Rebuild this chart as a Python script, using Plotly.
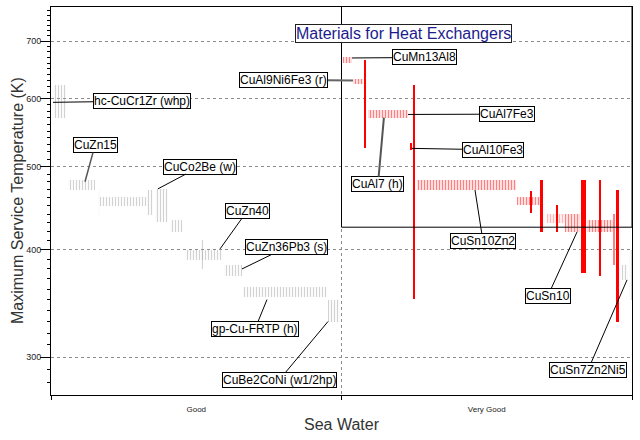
import numpy as np
import plotly.graph_objects as go

# ---------------- data (x extents are in category units: Good = 0..1, Very Good = 1..2) -------------
# grey hatched materials
gray_x0 = [0.007, 0.059, 0.162, 0.169, 0.331, 0.358, 0.410, 0.461, 0.516, 0.596, 0.661, 0.954, 1.966, 1.990]
gray_x1 = [0.052, 0.152, 0.169, 0.331, 0.351, 0.403, 0.454, 0.592, 0.523, 0.658, 0.950, 0.995, 1.986, 2.000]
gray_lo = [569, 469, 439, 450, 439, 431, 420, 389, 380, 373, 352, 330, 369, 350]
gray_hi = [622, 482, 469, 461, 469, 471, 433, 400, 411, 384, 362, 350, 384, 400]

# red hatched materials
red_x0 = [1.005, 1.040, 1.091, 1.260, 1.604, 1.770, 1.845]
red_x1 = [1.036, 1.074, 1.229, 1.601, 1.683, 1.821, 1.942]
red_lo = [660, 624, 569, 469, 451, 420, 420]
red_hi = [670, 632, 582, 482, 461, 440, 433]

# pink hatched materials
pink_x0 = [1.707]
pink_x1 = [1.770]
pink_lo = [430]
pink_hi = [440]

# red narrow (solid) materials
solid_x0 = [1.077, 1.246, 1.239, 1.649, 1.683, 1.738, 1.824, 1.886, 1.945]
solid_x1 = [1.084, 1.253, 1.243, 1.655, 1.694, 1.745, 1.842, 1.893, 1.955]
solid_lo = [526, 351, 523, 442, 420, 420, 376, 373, 330]
solid_hi = [665, 622, 533, 468, 482, 451, 482, 482, 470]

# pink narrow material
psolid_x0 = [1.935]
psolid_x1 = [1.941]
psolid_lo = [384]
psolid_hi = [440]

# labels: text, point (x, T), box centre (x, T)
lab_text = ["hc-CuCr1Zr (whp)", "CuZn15", "CuCo2Be (w)", "CuZn40", "CuZn36Pb3 (s)",
            "gp-Cu-FRTP (h)", "CuBe2CoNi (w1/2hp)", "CuAl9Ni6Fe3 (r)", "CuMn13Al8",
            "CuAl7Fe3", "CuAl7 (h)", "CuAl10Fe3", "CuSn10Zn2", "CuSn10", "CuSn7Zn2Ni5"]
lab_px = [0.007, 0.117, 0.368, 0.582, 0.6575, 0.7435, 0.9535, 1.0396, 1.036,
          1.229, 1.146, 1.2427, 1.4596, 1.8107, 1.983]
lab_pt = [594, 480, 471, 401, 380, 350, 330, 630, 669,
          575, 570, 525, 469.5, 419.5, 369]
lab_bx = [0.313, 0.1515, 0.513, 0.675, 0.812, 0.702, 0.785, 0.802, 1.284,
          1.570, 1.1256, 1.5215, 1.487, 1.7108, 1.8485]
lab_bt = [596, 529.6, 500, 443.7, 402.9, 323.3, 282, 631, 670,
          575.5, 477, 523, 409.4, 353.8, 289.8]
lab_lc = ["#000000", "#555555", "#000000", "#000000", "#000000", "#000000", "#000000",
          "#666666", "#000000", "#000000", "#555555", "#000000", "#000000", "#000000", "#000000"]
lab_lw = [1, 1.5, 1, 1, 1, 1, 1, 2, 1, 1, 2, 1, 1, 1, 1]

cat_vals = [0.5, 1.5]
cat_text = ["Good", "Very Good"]
y_ticks = [300, 400, 500, 600, 700]
y_range = [271, 767]
box_low = 425   # lower edge of the highlighted region (Very Good, high temperature)

FONT = "Liberation Sans, Arial, sans-serif"

fig = go.Figure()


def add_bars(x0, x1, lo, hi, color, hatched, solidity=0.4):
    x0 = np.array(x0); x1 = np.array(x1); lo = np.array(lo, float); hi = np.array(hi, float)
    kw = dict(x=(x0 + x1) / 2, width=x1 - x0, base=lo, y=hi - lo,
              hoverinfo="skip", showlegend=False)
    if hatched:
        fig.add_trace(go.Bar(**kw, marker=dict(
            color="rgba(0,0,0,0)", line=dict(width=0),
            pattern=dict(shape="|", fillmode="overlay", fgcolor=color,
                         bgcolor="rgba(0,0,0,0)", size=3, solidity=solidity))))
    else:
        fig.add_trace(go.Bar(**kw, marker=dict(color=color, line=dict(width=0))))


add_bars(gray_x0, gray_x1, gray_lo, gray_hi, "#a6a6a6", True)
add_bars(pink_x0, pink_x1, pink_lo, pink_hi, "#ff7070", True, 0.5)
add_bars(red_x0, red_x1, red_lo, red_hi, "#ff0000", True, 0.5)
add_bars(solid_x0, solid_x1, solid_lo, solid_hi, "#ff0000", False)
add_bars(psolid_x0, psolid_x1, psolid_lo, psolid_hi, "#ff8080", False)

# highlighted selection box
fig.add_trace(go.Scatter(x=[1, 1, 2, 2], y=[y_range[1], box_low, box_low, y_range[1]],
                         mode="lines", line=dict(color="black", width=1),
                         hoverinfo="skip", showlegend=False, cliponaxis=True))

for t, px, pt, bx, bt, lc, lw in zip(lab_text, lab_px, lab_pt, lab_bx, lab_bt, lab_lc, lab_lw):
    fig.add_annotation(x=px, y=np.log10(pt), ax=bx, ay=np.log10(bt), axref="x", ayref="y",
                       xref="x", yref="y", text=t, showarrow=True, arrowhead=0,
                       arrowwidth=lw, arrowcolor=lc, standoff=0,
                       font=dict(family=FONT, size=12, color="black"),
                       bgcolor="white", bordercolor="black", borderwidth=1, borderpad=0)

fig.add_annotation(x=0.794, y=0.955, xref="paper", yref="paper", showarrow=False,
                   text="Materials for Heat Exchangers",
                   font=dict(family=FONT, size=16, color="#1c1c8e"),
                   bgcolor="white", bordercolor="#202020", borderwidth=1, borderpad=0)

# y-axis title
fig.add_annotation(x=-0.0585, y=0.5, xref="paper", yref="paper", showarrow=False,
                   text="Maximum Service Temperature (K)", textangle=-90,
                   xanchor="center", yanchor="middle",
                   font=dict(family=FONT, size=16, color="#333333"))

fig.update_layout(
    width=640, height=440, margin=dict(l=51, r=8, t=7, b=45, autoexpand=False),
    paper_bgcolor="white", plot_bgcolor="white", barmode="overlay", bargap=0,
    font=dict(family=FONT, color="#222222"),
    xaxis=dict(range=[0, 2], tickvals=cat_vals, ticktext=cat_text, ticks="",
               tickfont=dict(size=8, color="#222222"), ticklabelstandoff=6,
               showgrid=False, zeroline=False, automargin=False,
               showline=True, mirror=True, linecolor="black", linewidth=1,
               minor=dict(tickvals=[0, 1, 2], ticks="outside", ticklen=4, tickcolor="black",
                          showgrid=True, gridcolor="#8c8c8c", griddash="3px,3px", gridwidth=1),
               title=dict(text="Sea Water", font=dict(size=16, color="#333333"), standoff=6)),
    yaxis=dict(type="log", range=[np.log10(y_range[0]), np.log10(y_range[1])],
               tickvals=y_ticks, ticktext=[str(v) for v in y_ticks], ticks="outside",
               ticklen=10, tickcolor="black", tickfont=dict(size=9, color="#222222"),
               ticklabelstandoff=-3,
               showgrid=True, gridcolor="#8c8c8c", griddash="3px,3px", gridwidth=1,
               zeroline=False, showline=True, mirror=True, linecolor="black", linewidth=1,
               automargin=False,
               minor=dict(tickvals=[v for v in range(280, 770, 10) if v not in y_ticks],
                          ticks="outside", ticklen=3, tickcolor="black", showgrid=False)),
)

fig.write_html("out.html", config={"displayModeBar": False},
               post_script="document.body.style.margin='0';document.body.style.overflow='hidden';")
